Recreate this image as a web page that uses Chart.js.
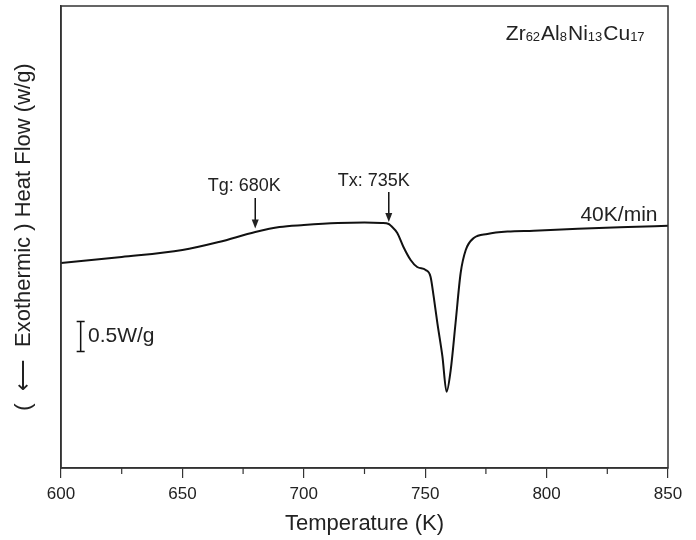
<!DOCTYPE html>
<html>
<head>
<meta charset="utf-8">
<script src="https://cdn.jsdelivr.net/npm/chart.js@4"></script>
<style>
  body { margin: 0; background: #fff; }
  canvas { display: block; }
</style>
</head>
<body>
<canvas id="dscChart" width="696" height="540"></canvas>
<script>
// temperatures (K) and heat flow (W/g, arbitrary offset)
const temperature = [600, 625, 650, 665, 680, 690, 700, 714, 725, 732, 735, 736,
    738.5, 741, 744, 746.7, 750.2, 752.2, 753.5, 755, 757.1, 758.8, 760.5, 762.5,
    764.6, 766.7, 770, 775.6, 783.9, 794.7, 812.9, 833.5, 850];
const heatFlow = [3.417, 3.517, 3.633, 3.767, 3.933, 4.017, 4.05, 4.083, 4.092, 4.083, 4.067, 4.033,
    3.917, 3.688, 3.467, 3.35, 3.3, 3.188, 2.855, 2.417, 1.855, 1.272, 1.633, 2.417,
    3.25, 3.633, 3.833, 3.9, 3.94, 3.955, 3.988, 4.017, 4.038];

const xTicks = [600, 650, 700, 750, 800, 850];
const xMinorTicks = [625, 675, 725, 775, 825];

// Tg / Tx markers
const markerTemps = [680, 735];
const markerLabels = ['Tg: 680K', 'Tx: 735K'];

const textColor = '#222';
const fontFamily = '"Liberation Sans", Arial, sans-serif';

// draws the frame, minor ticks, arrows and notes
const notesPlugin = {
    id: 'notes',
    afterDraw(chart) {
        const ctx = chart.ctx;
        const area = chart.chartArea;
        const x = chart.scales.x;
        const y = chart.scales.y;
        ctx.save();

        // frame
        ctx.strokeStyle = '#333';
        ctx.lineWidth = 1.5;
        ctx.strokeRect(area.left, area.top, area.right - area.left, area.bottom - area.top);

        // minor ticks
        ctx.lineWidth = 1.2;
        xMinorTicks.forEach(t => {
            const px = x.getPixelForValue(t);
            ctx.beginPath();
            ctx.moveTo(px, area.bottom);
            ctx.lineTo(px, area.bottom + 6);
            ctx.stroke();
        });

        // arrows with labels
        ctx.fillStyle = textColor;
        ctx.strokeStyle = '#111';
        ctx.textAlign = 'center';
        ctx.textBaseline = 'middle';
        ctx.font = '18px ' + fontFamily;
        const labelLevel = [4.7, 4.78];
        const labelShift = [-11, -15];
        const arrowTop = [4.5, 4.6];
        const arrowTip = [3.99, 4.1];
        markerTemps.forEach((t, i) => {
            const px = x.getPixelForValue(t);
            ctx.fillText(markerLabels[i], px + labelShift[i], y.getPixelForValue(labelLevel[i]));
            const y0 = y.getPixelForValue(arrowTop[i]);
            const y1 = y.getPixelForValue(arrowTip[i]);
            ctx.lineWidth = 1.5;
            ctx.beginPath();
            ctx.moveTo(px, y0);
            ctx.lineTo(px, y1 - 6);
            ctx.stroke();
            ctx.beginPath();
            ctx.moveTo(px - 3.5, y1 - 9);
            ctx.lineTo(px + 3.5, y1 - 9);
            ctx.lineTo(px, y1);
            ctx.closePath();
            ctx.fill();
        });

        // heating rate
        ctx.font = '21px ' + fontFamily;
        ctx.fillText('40K/min', x.getPixelForValue(829.8), y.getPixelForValue(4.22));

        // scale bar 0.5 W/g
        const barX = x.getPixelForValue(608.1);
        const barTop = y.getPixelForValue(2.44);
        const barBottom = y.getPixelForValue(1.94);
        ctx.lineWidth = 1.5;
        ctx.beginPath();
        ctx.moveTo(barX, barTop);
        ctx.lineTo(barX, barBottom);
        ctx.moveTo(barX - 4, barTop);
        ctx.lineTo(barX + 4, barTop);
        ctx.moveTo(barX - 4, barBottom);
        ctx.lineTo(barX + 4, barBottom);
        ctx.stroke();
        ctx.textAlign = 'left';
        ctx.font = '21px ' + fontFamily;
        ctx.fillText('0.5W/g', x.getPixelForValue(611.1), y.getPixelForValue(2.2));

        // alloy composition with subscripts
        const parts = [['Zr', false], ['62', true], ['Al', false], ['8', true],
            ['Ni', false], ['13', true], ['Cu', false], ['17', true]];
        let cx = x.getPixelForValue(783.2);
        const baseY = y.getPixelForValue(7.25) + 7;
        ctx.textBaseline = 'alphabetic';
        parts.forEach(([s, sub]) => {
            ctx.font = (sub ? '13px ' : '21px ') + fontFamily;
            ctx.fillText(s, cx, baseY + (sub ? 1 : 0));
            cx += ctx.measureText(s).width + (sub ? 1 : 0);
        });

        ctx.restore();
    }
};

new Chart(document.getElementById('dscChart'), {
    type: 'line',
    data: {
        datasets: [{
            data: temperature.map((t, i) => ({ x: t, y: heatFlow[i] })),
            borderColor: '#111',
            borderWidth: 2,
            pointRadius: 0,
            cubicInterpolationMode: 'monotone',
            fill: false
        }]
    },
    options: {
        responsive: false,
        animation: false,
        layout: { padding: { top: 6, right: 28, left: 0, bottom: 0 } },
        plugins: {
            legend: { display: false },
            tooltip: { enabled: false }
        },
        scales: {
            x: {
                type: 'linear',
                min: 600,
                max: 850,
                afterFit(scale) { scale.height = 72; },
                afterBuildTicks(scale) { scale.ticks = xTicks.map(v => ({ value: v })); },
                border: { display: true, color: '#333', width: 1.5 },
                grid: { display: true, drawOnChartArea: false, drawTicks: true, tickLength: 10, color: '#333', lineWidth: 1.2 },
                ticks: {
                    color: textColor,
                    padding: 6,
                    maxRotation: 0,
                    font: { family: fontFamily, size: 17 }
                },
                title: {
                    display: true,
                    text: 'Temperature (K)',
                    color: textColor,
                    padding: { top: 0, bottom: 3 },
                    font: { family: fontFamily, size: 22 }
                }
            },
            y: {
                min: 0,
                max: 7.7,
                afterFit(scale) { scale.width = 61; },
                border: { display: true, color: '#333', width: 1.5 },
                grid: { display: false },
                ticks: { display: false },
                title: {
                    display: true,
                    text: '(  \u27F5  Exothermic ) Heat Flow (w/g)',
                    color: textColor,
                    padding: { top: 11, bottom: 0 },
                    font: { family: fontFamily, size: 22 }
                }
            }
        }
    },
    plugins: [notesPlugin]
});
</script>
</body>
</html>
